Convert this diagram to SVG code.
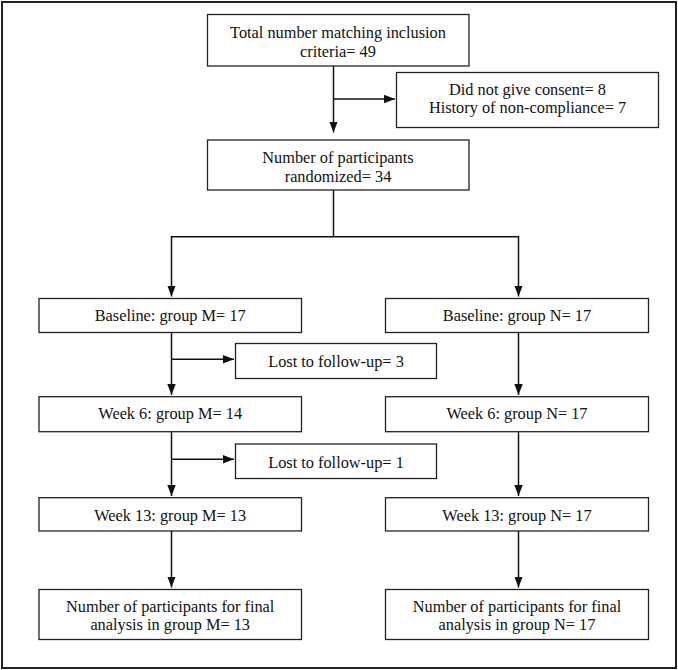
<svg xmlns="http://www.w3.org/2000/svg" width="678" height="670" viewBox="0 0 678 670">
<style>
.box{fill:#fff;stroke:#222;stroke-width:1.3}
.t{font-family:"Liberation Serif","Times New Roman",serif;font-size:17px;fill:#111;text-anchor:middle;transform-box:fill-box;transform-origin:center;transform:scaleX(0.96)}
.c{fill:none;stroke:#111;stroke-width:1.5}
</style>
<defs>
<marker id="ah" markerUnits="userSpaceOnUse" markerWidth="12" markerHeight="10" refX="11" refY="5" orient="auto">
<path d="M0,0.8 L11,5 L0,9.2 Z" fill="#111"/>
</marker>
</defs>
<rect x="0" y="0" width="678" height="670" fill="#fff"/>
<rect x="2" y="2" width="674" height="666" fill="none" stroke="#222" stroke-width="2"/>
<g id="connectors">
<path class="c" d="M333.5,66 V132.5" marker-end="url(#ah)"/>
<path class="c" d="M333.5,99 H395" marker-end="url(#ah)"/>
<path class="c" d="M333.5,190 V236.7 M171.5,236.7 H518.5"/>
<path class="c" d="M171.5,236 V296.5" marker-end="url(#ah)"/>
<path class="c" d="M518.5,236 V296.5" marker-end="url(#ah)"/>
<path class="c" d="M171.5,332 V395" marker-end="url(#ah)"/>
<path class="c" d="M171.5,359.3 H234" marker-end="url(#ah)"/>
<path class="c" d="M518.5,332 V395" marker-end="url(#ah)"/>
<path class="c" d="M171.5,432 V496" marker-end="url(#ah)"/>
<path class="c" d="M171.5,459.3 H234" marker-end="url(#ah)"/>
<path class="c" d="M518.5,432 V496" marker-end="url(#ah)"/>
<path class="c" d="M171.5,531 V587.5" marker-end="url(#ah)"/>
<path class="c" d="M518.5,531 V587.5" marker-end="url(#ah)"/>
</g>
<g id="total"><rect class="box" x="207.5" y="14.5" width="261.5" height="51.5"/>
<text class="t" x="338" y="38">Total number matching inclusion</text>
<text class="t" x="338" y="57">criteria= 49</text></g>
<g id="excluded"><rect class="box" x="396.5" y="72.5" width="262" height="55"/>
<text class="t" x="527.5" y="95">Did not give consent= 8</text>
<text class="t" x="527.5" y="113.5">History of non-compliance= 7</text></g>
<g id="randomized"><rect class="box" x="207.5" y="140" width="261.5" height="50"/>
<text class="t" x="338" y="163">Number of participants</text>
<text class="t" x="338" y="182">randomized= 34</text></g>
<g id="baseM"><rect class="box" x="39" y="298.5" width="262.5" height="34"/>
<text class="t" x="170.2" y="321">Baseline: group M= 17</text></g>
<g id="baseN"><rect class="box" x="385.5" y="298.5" width="263" height="34"/>
<text class="t" x="517" y="321">Baseline: group N= 17</text></g>
<g id="lost3"><rect class="box" x="235.5" y="343.5" width="201" height="35"/>
<text class="t" x="336" y="367.5">Lost to follow-up= 3</text></g>
<g id="w6M"><rect class="box" x="39" y="396.7" width="262.5" height="35"/>
<text class="t" x="170.2" y="419.5">Week 6: group M= 14</text></g>
<g id="w6N"><rect class="box" x="385.5" y="396.7" width="263" height="35"/>
<text class="t" x="517" y="419.5">Week 6: group N= 17</text></g>
<g id="lost1"><rect class="box" x="235.5" y="444" width="201" height="34.5"/>
<text class="t" x="336" y="468">Lost to follow-up= 1</text></g>
<g id="w13M"><rect class="box" x="39" y="497.7" width="262.5" height="33.3"/>
<text class="t" x="170.2" y="521">Week 13: group M= 13</text></g>
<g id="w13N"><rect class="box" x="385.5" y="497.7" width="263" height="33.3"/>
<text class="t" x="517" y="521">Week 13: group N= 17</text></g>
<g id="finalM"><rect class="box" x="39" y="589.5" width="262.5" height="50"/>
<text class="t" x="170.2" y="612">Number of participants for final</text>
<text class="t" x="170.2" y="630.5">analysis in group M= 13</text></g>
<g id="finalN"><rect class="box" x="385.5" y="589.5" width="263" height="50"/>
<text class="t" x="517" y="612">Number of participants for final</text>
<text class="t" x="517" y="630.5">analysis in group N= 17</text></g>
</svg>
